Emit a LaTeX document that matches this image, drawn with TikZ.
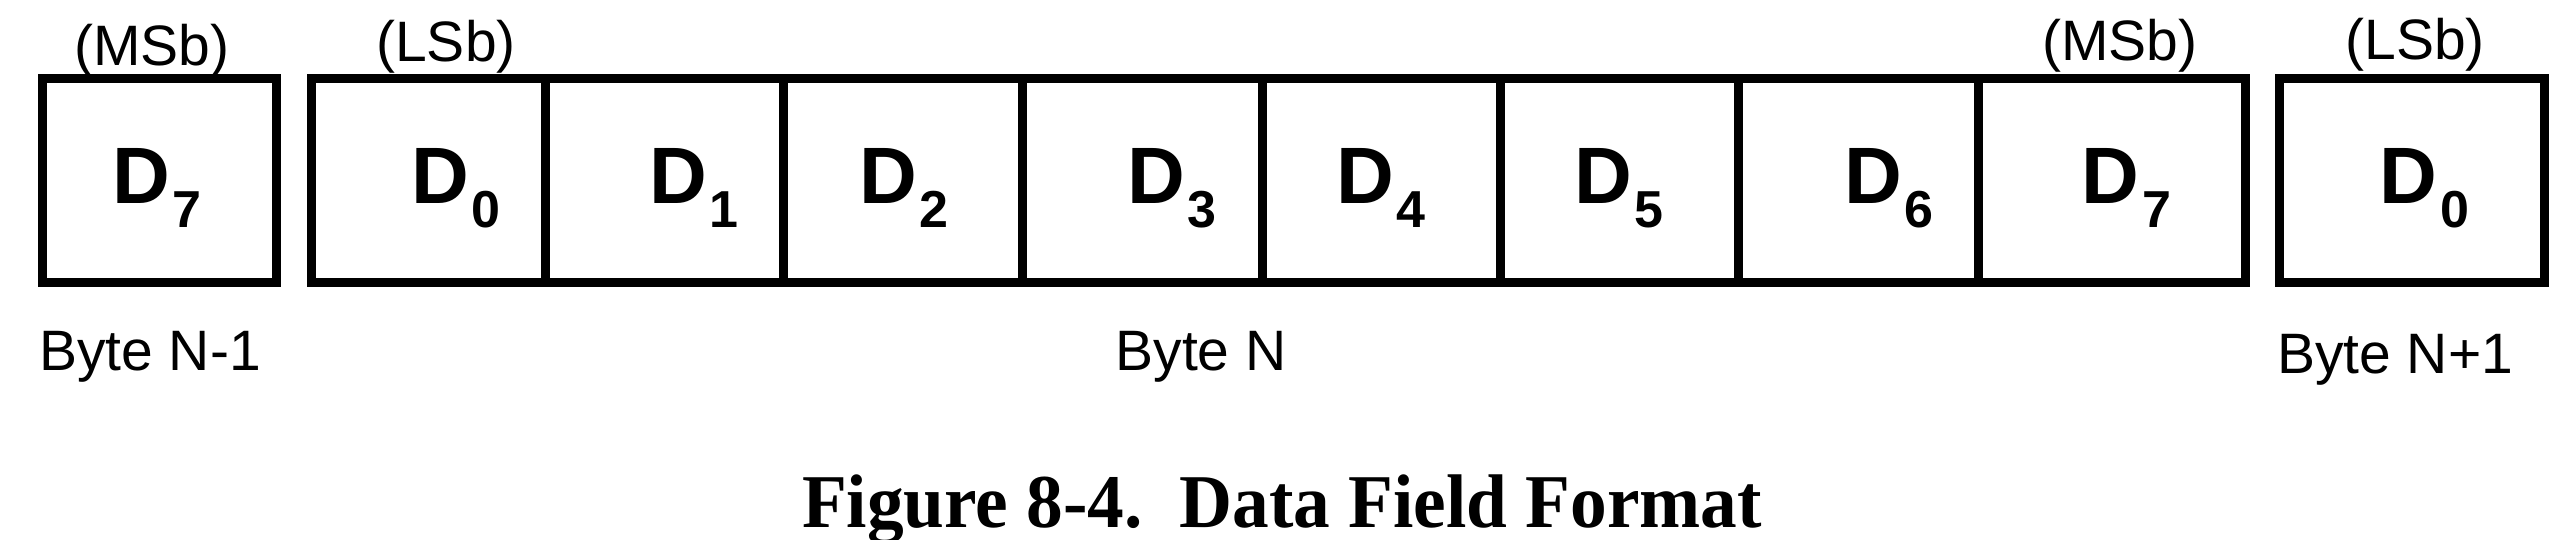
\documentclass[tikz,border=0pt]{standalone}
\usepackage{fontspec}
\setmainfont{Liberation Sans}
\newfontfamily\capfont{Liberation Serif}
\newcommand\bitlbl[1]{D\kern3pt\raisebox{-24pt}{\fontsize{52}{52}\selectfont #1}}
\begin{document}
\begin{tikzpicture}[x=1pt,y=-1pt,
  cell/.style={draw, line width=9pt, minimum height=204pt, inner sep=0pt, outer sep=0pt, anchor=north west},
  bit/.style={anchor=base west, inner sep=0pt, font=\bfseries\fontsize{80}{80}\selectfont},
  tag/.style={anchor=base, inner sep=0pt, font=\fontsize{57}{57}\selectfont},
  caption/.style={anchor=base, inner sep=0pt, font=\capfont\bfseries\fontsize{76}{76}\selectfont}]
\useasboundingbox (0,0) rectangle (2572,540);
% previous byte
\node[cell, minimum width=234.5pt] (p7) at (42,78.5) {};
% byte N
\node[cell, minimum width=234pt]   (n0) at (311,78.5) {};
\node[cell, minimum width=238pt]   (n1) at (545,78.5) {};
\node[cell, minimum width=239.5pt] (n2) at (783,78.5) {};
\node[cell, minimum width=239.5pt] (n3) at (1022.5,78.5) {};
\node[cell, minimum width=238pt]   (n4) at (1262,78.5) {};
\node[cell, minimum width=238pt]   (n5) at (1500,78.5) {};
\node[cell, minimum width=240pt]   (n6) at (1738,78.5) {};
\node[cell, minimum width=267pt]   (n7) at (1978,78.5) {};
% next byte
\node[cell, minimum width=265pt]   (q0) at (2279.5,78.5) {};
% bit labels
\node[bit] (lp7) at (112,204) {\bitlbl{7}};
\node[bit] (ln0) at (411,204) {\bitlbl{0}};
\node[bit] (ln1) at (649,204) {\bitlbl{1}};
\node[bit] (ln2) at (859,204) {\bitlbl{2}};
\node[bit] (ln3) at (1127,204) {\bitlbl{3}};
\node[bit] (ln4) at (1336,204) {\bitlbl{4}};
\node[bit] (ln5) at (1574,204) {\bitlbl{5}};
\node[bit] (ln6) at (1844,204) {\bitlbl{6}};
\node[bit] (ln7) at (2081,204) {\bitlbl{7}};
\node[bit] (lq0) at (2379,204) {\bitlbl{0}};
% MSb / LSb tags
\node[tag] (t1) at (152,66) {(MSb)};
\node[tag] (t2) at (446,62) {(LSb)};
\node[tag] (t3) at (2120,61) {(MSb)};
\node[tag] (t4) at (2415,60) {(LSb)};
% byte names
\node[tag] (b1) at (150,370) {Byte N-1};
\node[tag] (b2) at (1201,370) {Byte N};
\node[tag] (b3) at (2395,373) {Byte N+1};
% caption
\node[caption] (cap) at (1282,527) {\scalebox{0.965}[1]{Figure 8-4.\ \ Data Field Format}};
\end{tikzpicture}
\end{document}
